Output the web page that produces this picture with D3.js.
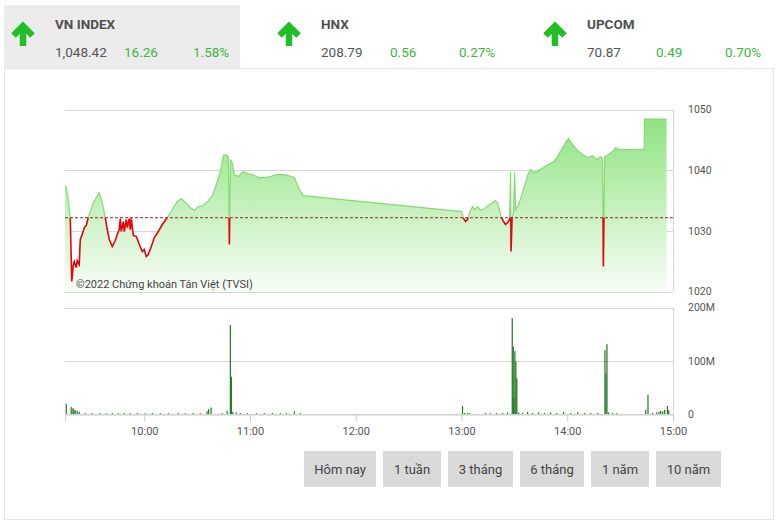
<!DOCTYPE html>
<html>
<head>
<meta charset="utf-8">
<script src="https://cdn.jsdelivr.net/npm/d3@7"></script>
<style>
  body { margin: 0; background: #fff; }
  svg { display: block; font-family: Roboto, "Noto Sans", sans-serif; }
</style>
</head>
<body>
<svg id="chart" width="778" height="523"></svg>
<script>
// index summary
const indexNames = ["VN INDEX", "HNX", "UPCOM"];
const indexValues = ["1,048.42", "208.79", "70.87"];
const indexChanges = ["16.26", "0.56", "0.49"];
const indexPercents = ["1.58%", "0.27%", "0.70%"];

const refPrice = 1032.16;

const priceTimes = [
  "09:15:00", "09:15:43", "09:16:50", "09:17:59", "09:18:50", "09:19:41", "09:20:15", "09:21:23",
  "09:21:57", "09:23:05", "09:23:40", "09:24:47", "09:25:56", "09:27:04", "09:28:12", "09:30:28",
  "09:32:44", "09:34:27", "09:35:35", "09:36:43", "09:37:51", "09:38:59", "09:40:08", "09:41:50",
  "09:43:32", "09:44:40", "09:45:48", "09:46:22", "09:46:56", "09:48:05", "09:48:38", "09:49:47",
  "09:50:21", "09:51:29", "09:52:03", "09:52:37", "09:53:45", "09:55:28", "09:57:10", "09:58:52",
  "10:00:00", "10:01:08", "10:02:16", "10:03:58", "10:05:41", "10:07:57", "10:10:13", "10:13:04",
  "10:15:54", "10:18:44", "10:21:01", "10:23:51", "10:26:07", "10:28:23", "10:30:40", "10:33:30",
  "10:36:20", "10:38:37", "10:40:53", "10:43:10", "10:44:52", "10:46:34", "10:47:42", "10:48:16",
  "10:48:50", "10:49:58", "10:51:07", "10:53:23", "10:56:13", "10:58:29", "11:01:20", "11:04:44",
  "11:08:08", "11:11:33", "11:14:58", "11:18:22", "11:21:46", "11:25:11", "11:27:27", "11:30:00",
  "13:00:00", "13:01:08", "13:02:17", "13:03:25", "13:04:33", "13:06:15", "13:07:23", "13:09:05",
  "13:10:48", "13:13:04", "13:15:20", "13:17:37", "13:19:19", "13:20:27", "13:21:35", "13:22:43",
  "13:23:52", "13:24:59", "13:26:08", "13:27:16", "13:27:50", "13:28:07", "13:28:41", "13:29:32",
  "13:30:06", "13:30:40", "13:32:23", "13:34:05", "13:35:47", "13:37:29", "13:39:11", "13:40:53",
  "13:43:44", "13:46:34", "13:49:25", "13:52:15", "13:54:31", "13:56:47", "13:59:04", "14:00:46",
  "14:03:02", "14:05:53", "14:08:43", "14:11:34", "14:14:24", "14:16:40", "14:18:56", "14:20:05",
  "14:20:29", "14:21:13", "14:23:29", "14:25:45", "14:27:28", "14:29:10", "14:43:40", "14:43:50",
  "14:56:20"
];
const priceValues = [
  1037.46, 1037.13, 1035.16, 1032.19, 1021.65, 1024.28, 1024.94, 1023.95,
  1025.10, 1024.45, 1028.57, 1029.39, 1030.54, 1030.87, 1032.19, 1034.17,
  1035.49, 1036.31, 1035.16, 1033.84, 1032.19, 1030.21, 1028.57, 1027.41,
  1028.40, 1029.39, 1030.21, 1032.03, 1029.88, 1031.53, 1029.88, 1031.86,
  1030.54, 1032.03, 1030.21, 1032.03, 1029.23, 1029.06, 1027.74, 1026.59,
  1026.92, 1025.77, 1026.10, 1027.41, 1028.90, 1029.88, 1031.04, 1032.19,
  1033.51, 1034.83, 1035.32, 1034.50, 1033.84, 1033.34, 1034.00, 1034.17,
  1034.99, 1035.82, 1037.63, 1039.77, 1042.41, 1042.57, 1042.24, 1027.74,
  1041.75, 1041.09, 1039.27, 1038.95, 1039.77, 1039.44, 1039.27, 1038.78,
  1038.78, 1038.95, 1039.27, 1039.27, 1039.11, 1038.78, 1037.13, 1035.80,
  1033.18, 1032.03, 1031.53, 1031.86, 1033.00, 1034.00, 1033.50, 1034.00,
  1033.34, 1033.67, 1034.17, 1034.66, 1035.00, 1034.50, 1033.34, 1032.19,
  1031.53, 1031.04, 1031.37, 1031.86, 1039.77, 1026.59, 1032.19, 1033.18,
  1039.60, 1033.50, 1034.33, 1035.82, 1037.46, 1039.11, 1040.10, 1039.60,
  1039.93, 1040.43, 1040.92, 1041.42, 1042.24, 1043.39, 1044.55, 1045.21,
  1044.22, 1043.23, 1042.57, 1042.08, 1042.40, 1041.75, 1042.24, 1041.75,
  1024.12, 1042.24, 1042.57, 1043.06, 1043.72, 1043.39, 1043.39, 1048.42,
  1048.42
];

// volume in millions
const volumeTimes = [
  "09:15:43", "09:18:33", "09:19:31", "09:20:05", "09:20:49", "09:21:57", "09:23:05", "09:26:30",
  "09:30:28", "09:35:00", "09:38:25", "09:41:50", "09:45:14", "09:48:38", "09:52:03", "09:56:02",
  "10:00:34", "10:04:33", "10:09:05", "10:13:38", "10:19:18", "10:23:17", "10:27:49", "10:31:48",
  "10:35:36", "10:36:31", "10:37:53", "10:44:17", "10:46:58", "10:48:50", "10:49:24", "10:50:15",
  "10:52:14", "10:54:31", "10:58:29", "11:03:36", "11:08:08", "11:12:41", "11:17:14", "11:20:38",
  "11:25:11", "11:28:35",
  "13:00:34", "13:01:43", "13:03:25", "13:04:33", "13:13:38", "13:16:28", "13:19:53", "13:23:17",
  "13:26:08", "13:28:47", "13:29:21", "13:29:42", "13:30:16", "13:30:50", "13:31:24", "13:32:23",
  "13:34:39", "13:37:29", "13:40:19", "13:43:44", "13:47:08", "13:50:33", "13:53:57", "13:57:56",
  "14:01:55", "14:05:53", "14:09:52", "14:13:16", "14:17:14", "14:21:23", "14:21:57", "14:22:31",
  "14:23:29", "14:25:45", "14:28:02", "14:44:30", "14:45:48", "14:48:28", "14:50:44", "14:52:03",
  "14:53:00", "14:54:08", "14:55:17", "14:56:49", "14:57:33"
];
const volumeValues = [
  19, 13, 11, 8, 7, 6, 4, 2,
  1.5, 2, 1.5, 2, 1.5, 2, 1.5, 2,
  1.5, 2, 1.5, 1.5, 2, 1.5, 2, 1.5,
  5, 9, 12, 1.5, 6, 167, 70, 4,
  3, 2, 1.5, 1.5, 1.5, 2, 1.5, 2,
  5, 1.5,
  15, 2, 2, 1.5, 2, 1.5, 2, 2,
  3, 180, 127, 30, 118, 99, 67, 3,
  2, 4, 2, 3, 2, 3, 2, 4,
  2, 3, 2, 2, 2, 120, 76, 131,
  3, 2, 1.5, 8, 36, 2, 3, 4,
  6, 5, 8, 15, 7
];

const priceTicks = [1050, 1040, 1030, 1020];
const volumeTicks = [200, 100, 0];
const timeTicks = ["10:00", "11:00", "12:00", "13:00", "14:00", "15:00"];
const periodButtons = ["Hôm nay", "1 tuần", "3 tháng", "6 tháng", "1 năm", "10 năm"];

const parseTime = d3.timeParse("%H:%M:%S");
const parseTick = d3.timeParse("%H:%M");

const priceData = priceTimes.map((t, i) => ({ t: parseTime(t), v: priceValues[i] }));
const volumeData = volumeTimes.map((t, i) => ({ t: parseTime(t), v: volumeValues[i] }));

const svg = d3.select("#chart");
const green = "#21bf26";
const textGrey = "#555";

// outer frame
svg.append("rect")
  .attr("x", 4.5).attr("y", 68.5).attr("width", 769).attr("height", 451)
  .attr("fill", "none").attr("stroke", "#e4e4e4");

// index header
const headerX = [4, 270, 536];
const header = svg.selectAll("g.index")
  .data(indexNames)
  .join("g")
  .attr("class", "index")
  .attr("transform", (d, i) => `translate(${headerX[i]},0)`);

header.filter((d, i) => i === 0)
  .append("rect")
  .attr("x", 0).attr("y", 5).attr("width", 236).attr("height", 63)
  .attr("fill", "#ececec");

header.append("path")
  .attr("d", "M19,46V27 M9.5,35.5L19,26L28.5,35.5")
  .attr("fill", "none")
  .attr("stroke", green)
  .attr("stroke-width", 6.5);

header.append("text")
  .attr("x", 51).attr("y", 28.5)
  .attr("font-size", 13.5).attr("font-weight", "bold")
  .attr("fill", "#505050")
  .text((d) => d);

header.append("text")
  .attr("x", 51).attr("y", 56.5)
  .attr("font-size", 13.5).attr("fill", textGrey)
  .text((d, i) => indexValues[i]);

header.append("text")
  .attr("x", 120).attr("y", 56.5)
  .attr("font-size", 13.5).attr("fill", "#3cb63c")
  .text((d, i) => indexChanges[i]);

header.append("text")
  .attr("x", 189).attr("y", 56.5)
  .attr("font-size", 13.5).attr("fill", "#3cb63c")
  .text((d, i) => indexPercents[i]);

// scales
const x = d3.scaleTime()
  .domain([parseTick("09:15"), parseTick("15:00")])
  .range([65, 673]);
const yPrice = d3.scaleLinear().domain([1020, 1050]).range([291.5, 109.5]);
const yVol = d3.scaleLinear().domain([0, 200]).range([414, 307.5]);

const left = 65, right = 673;

// gradient for area
const defs = svg.append("defs");
const grad = defs.append("linearGradient")
  .attr("id", "areaGrad")
  .attr("gradientUnits", "userSpaceOnUse")
  .attr("x1", 0).attr("x2", 0)
  .attr("y1", yPrice(1050)).attr("y2", yPrice(1020));
grad.append("stop").attr("offset", 0).attr("stop-color", "#8ae27a");
grad.append("stop").attr("offset", 1).attr("stop-color", "#f8fdf7");

const yRef = yPrice(refPrice);
defs.append("clipPath").attr("id", "clipAbove")
  .append("rect").attr("x", left).attr("y", 100).attr("width", right - left).attr("height", yRef - 100);
defs.append("clipPath").attr("id", "clipBelow")
  .append("rect").attr("x", left).attr("y", yRef).attr("width", right - left).attr("height", 300 - yRef);

// price grid
svg.append("g")
  .selectAll("line")
  .data(priceTicks)
  .join("line")
  .attr("x1", left).attr("x2", right)
  .attr("y1", (d) => Math.round(yPrice(d)) + 0.5)
  .attr("y2", (d) => Math.round(yPrice(d)) + 0.5)
  .attr("stroke", "#d6d6d6");

svg.append("line")
  .attr("x1", right + 0.5).attr("x2", right + 0.5)
  .attr("y1", yPrice(1050)).attr("y2", yPrice(1020))
  .attr("stroke", "#d6d6d6");

const priceAxis = d3.axisRight(yPrice)
  .tickValues(priceTicks)
  .tickFormat(d3.format("d"))
  .tickSize(0)
  .tickPadding(15);
svg.append("g")
  .attr("transform", `translate(${right},0)`)
  .call(priceAxis)
  .call((g) => g.select(".domain").remove())
  .call((g) => g.selectAll("text").attr("fill", textGrey).attr("font-size", 10.5).attr("font-family", "Roboto"));

// area + lines
const area = d3.area()
  .x((d) => x(d.t))
  .y0(yPrice(1020))
  .y1((d) => yPrice(d.v));
const line = d3.line()
  .x((d) => x(d.t))
  .y((d) => yPrice(d.v));

svg.append("path")
  .datum(priceData)
  .attr("d", area)
  .attr("fill", "url(#areaGrad)");

svg.append("text")
  .attr("x", 76).attr("y", 287.5)
  .attr("font-size", 11).attr("fill", "#444")
  .text("©2022 Chứng khoán Tân Việt (TVSI)");

svg.append("path")
  .datum(priceData)
  .attr("d", line)
  .attr("fill", "none")
  .attr("stroke", "#86da76")
  .attr("stroke-width", 1.2)
  .attr("clip-path", "url(#clipAbove)");

svg.append("path")
  .datum(priceData)
  .attr("d", line)
  .attr("fill", "none")
  .attr("stroke", "#e8000b")
  .attr("stroke-width", 1.6)
  .attr("clip-path", "url(#clipBelow)");

svg.append("line")
  .attr("x1", left).attr("x2", right)
  .attr("y1", yRef).attr("y2", yRef)
  .attr("stroke", "#a11d1d")
  .attr("stroke-dasharray", "3,2");

// volume chart
svg.append("g")
  .selectAll("line")
  .data(volumeTicks)
  .join("line")
  .attr("x1", left).attr("x2", right)
  .attr("y1", (d) => Math.round(yVol(d)) + 0.5)
  .attr("y2", (d) => Math.round(yVol(d)) + 0.5)
  .attr("stroke", "#d6d6d6");

svg.append("line")
  .attr("x1", right + 0.5).attr("x2", right + 0.5)
  .attr("y1", yVol(200)).attr("y2", yVol(0))
  .attr("stroke", "#d6d6d6");

const volAxis = d3.axisRight(yVol)
  .tickValues(volumeTicks)
  .tickFormat((d) => (d === 0 ? "0" : d + "M"))
  .tickSize(0)
  .tickPadding(15);
svg.append("g")
  .attr("transform", `translate(${right},0)`)
  .call(volAxis)
  .call((g) => g.select(".domain").remove())
  .call((g) => g.selectAll("text").attr("fill", textGrey).attr("font-size", 10.5).attr("font-family", "Roboto"));

svg.append("g")
  .selectAll("rect")
  .data(volumeData)
  .join("rect")
  .attr("x", (d) => x(d.t) - 0.6)
  .attr("width", 1.2)
  .attr("y", (d) => yVol(d.v))
  .attr("height", (d) => yVol(0) - yVol(d.v))
  .attr("fill", "#1f7a1f");

const timeAxis = d3.axisBottom(x)
  .tickValues(timeTicks.map(parseTick))
  .tickFormat(d3.timeFormat("%H:%M"))
  .tickSize(7)
  .tickPadding(6);
svg.append("g")
  .attr("transform", `translate(0,${Math.round(yVol(0)) + 0.5})`)
  .call(timeAxis)
  .call((g) => g.select(".domain").attr("stroke", "#ccc"))
  .call((g) => g.selectAll(".tick line").attr("stroke", "#ccc"))
  .call((g) => g.selectAll("text").attr("fill", textGrey).attr("font-size", 11).attr("font-family", "Roboto"));

// period buttons
const buttonX = [304, 383, 448, 520, 591, 656];
const buttonW = [72, 58, 65, 64, 58, 65];
const buttons = svg.selectAll("g.btn")
  .data(periodButtons)
  .join("g")
  .attr("class", "btn")
  .attr("transform", (d, i) => `translate(${buttonX[i]},451)`);

buttons.append("rect")
  .attr("width", (d, i) => buttonW[i])
  .attr("height", 36)
  .attr("fill", "#d9d9d9");

buttons.append("text")
  .attr("x", (d, i) => buttonW[i] / 2)
  .attr("y", 22.5)
  .attr("text-anchor", "middle")
  .attr("font-size", 13)
  .attr("fill", "#444")
  .text((d) => d);
</script>
</body>
</html>
